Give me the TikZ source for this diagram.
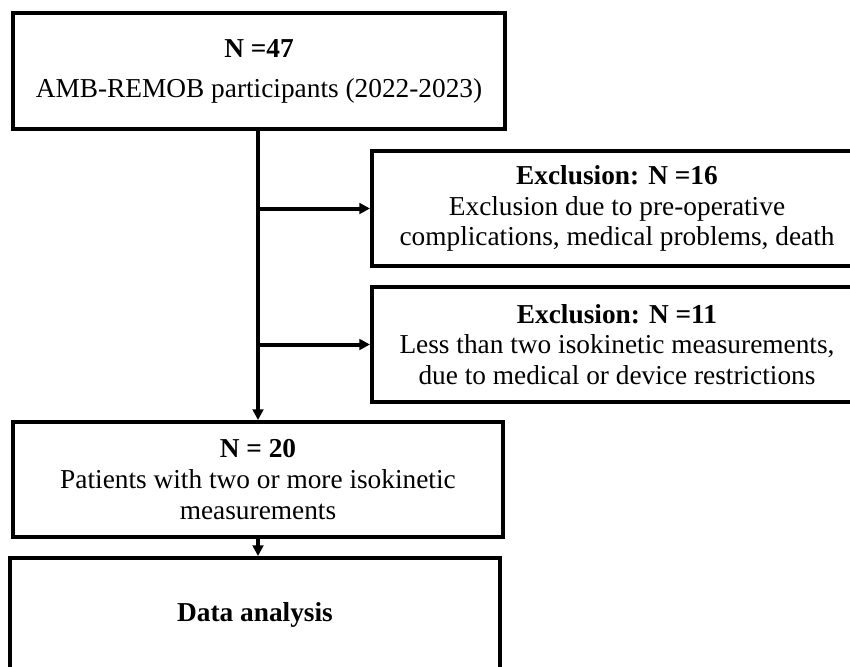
\documentclass[tikz,border=0pt]{standalone}
\usepackage{fontspec}
\setmainfont{Liberation Serif}
\usetikzlibrary{arrows.meta}

\tikzset{
  flowbox/.style={draw, line width=3pt, align=center, inner sep=0pt,
    font=\fontsize{20.5}{23}\selectfont},
  flowarrow/.style={line width=3pt, -{Triangle[length=8pt,width=8pt]}}
}

\begin{document}
\begin{tikzpicture}[x=0.75pt,y=-0.75pt]
      \useasboundingbox (0,0) rectangle (850,667);
      \clip (0,0) rectangle (850,667);

      % Participants
      \node [flowbox, minimum width=369pt, minimum height=87pt] (start) at (259,71)
        {\textbf{N =47}\\[7pt] AMB-REMOB participants (2022-2023)};

      % Exclusions
      \node [flowbox, minimum width=367.5pt, minimum height=86.25pt] (excl1) at (617,208.5)
        {\textbf{Exclusion: N =16}\\ Exclusion due to pre-operative\\ complications, medical problems, death};
      \node [flowbox, minimum width=367.5pt, minimum height=86.25pt] (excl2) at (617,344.5)
        {\textbf{Exclusion: N =11}\\ Less than two isokinetic measurements,\\ due to medical or device restrictions};

      % Patients
      \node [flowbox, minimum width=367.5pt, minimum height=86.25pt] (patients) at (258,479.5)
        {\textbf{N = 20}\\ Patients with two or more isokinetic\\ measurements};

      % Analysis
      \node [flowbox, minimum width=367.5pt, minimum height=85.5pt] (analysis) at (255,615)
        {\textbf{Data analysis}};

      % Edges
      \coordinate (split1) at (patients.north |- excl1.west);
      \coordinate (split2) at (patients.north |- excl2.west);
      \draw [flowarrow] (start.south -| patients.north) -- (patients.north);
      \draw [flowarrow] (split1) -- (excl1.west);
      \draw [flowarrow] (split2) -- (excl2.west);
      \draw [flowarrow] (patients.south) -- (patients.south |- analysis.north);
\end{tikzpicture}
\end{document}
